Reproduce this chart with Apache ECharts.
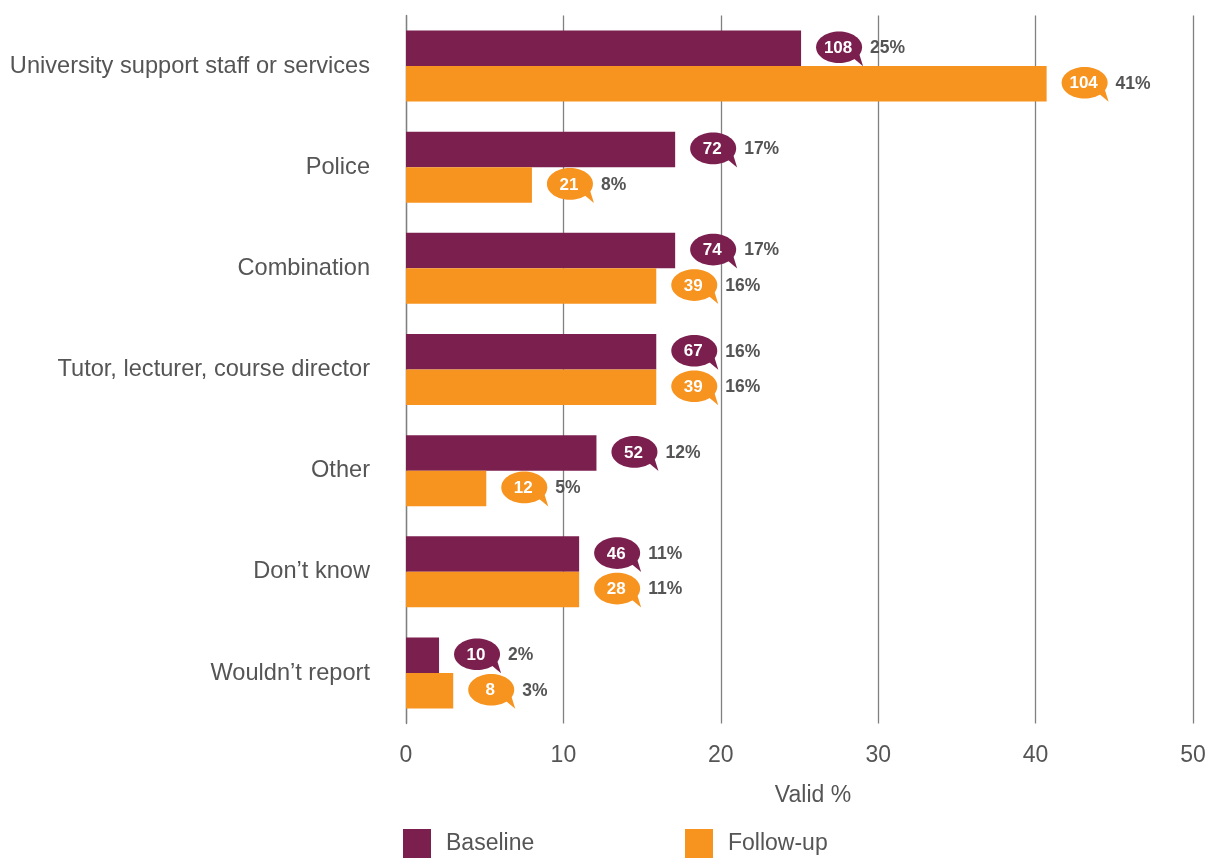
<!DOCTYPE html>
<html>
<head>
<meta charset="utf-8">
<script src="https://cdn.jsdelivr.net/npm/echarts@6/dist/echarts.min.js"></script>
<style>
html,body{margin:0;padding:0;background:#fff;}
#chart{width:1209px;height:859px;}
</style>
</head>
<body>
<div id="chart"></div>
<script>
const categories = ["University support staff or services", "Police", "Combination", "Tutor, lecturer, course director", "Other", "Don\u2019t know", "Wouldn\u2019t report"];
const baselineValues = [25.1, 17.1, 17.1, 15.9, 12.1, 11.0, 2.1];
const followUpValues = [40.7, 8.0, 15.9, 15.9, 5.1, 11.0, 3.0];
const baselinePctLabels = ["25%", "17%", "17%", "16%", "12%", "11%", "2%"];
const followUpPctLabels = ["41%", "8%", "16%", "16%", "5%", "11%", "3%"];
const baselineCounts = [108, 72, 74, 67, 52, 46, 10];
const followUpCounts = [104, 21, 39, 39, 12, 28, 8];
const xTicks = [0, 10, 20, 30, 40, 50];

const PURPLE = '#7b1f4f';
const ORANGE = '#f7931f';
const TEXT = '#555555';
const FONT = '"Liberation Sans", Arial, sans-serif';

const chart = echarts.init(document.getElementById('chart'), null, {renderer: 'canvas'});

function bubbleData(values, counts, pcts) {
  return values.map((v, i) => [v, i, counts[i], pcts[i]]);
}

function makeBubbleRenderer(color, sign, pctLabels) {
  return function (params, api) {
    const v = api.value(0);
    const idx = api.value(1);
    const pt = api.coord([v, idx]);
    const barW = 35.5;
    const cx = pt[0] + 38;
    const cy = pt[1] + sign * barW / 2 - 1;
    const count = api.value(2);
    const pct = pctLabels[params.dataIndex];
    return {
      type: 'group',
      children: [
        {
          type: 'polygon',
          shape: {points: [[cx + 12, cy + 9], [cx + 24, cy + 19], [cx + 19, cy + 3]]},
          style: {fill: color}
        },
        {
          type: 'ellipse',
          shape: {cx: cx, cy: cy, rx: 23, ry: 15.8},
          style: {fill: color}
        },
        {
          type: 'text',
          style: {
            x: cx - 1, y: cy + 1, text: String(count),
            fill: '#ffffff', font: 'bold 17px ' + FONT,
            align: 'center', verticalAlign: 'middle'
          }
        },
        {
          type: 'text',
          style: {
            x: cx + 31, y: cy + 1, text: pct,
            fill: TEXT, font: 'bold 17.5px ' + FONT,
            align: 'left', verticalAlign: 'middle'
          }
        }
      ]
    };
  };
}

const option = {
  animation: false,
  backgroundColor: '#ffffff',
  grid: {left: 406, right: 16, top: 15.4, bottom: 135.4, containLabel: false},
  xAxis: {
    type: 'value', min: 0, max: 50, interval: 10,
    axisLine: {show: false}, axisTick: {show: false},
    axisLabel: {color: TEXT, fontSize: 23, fontFamily: FONT, margin: 21,
      formatter: v => xTicks.includes(v) ? String(v) : ''},
    splitLine: {show: true, lineStyle: {color: '#808080', width: 1.3}}
  },
  yAxis: {
    type: 'category', data: categories, inverse: true,
    axisLine: {show: true, lineStyle: {color: '#808080', width: 1.3}},
    axisTick: {show: false},
    axisLabel: {color: TEXT, fontSize: 23.6, fontFamily: FONT, margin: 36}
  },
  legend: [
    {
      data: ['Baseline'], left: 403, top: 829, padding: 0, itemWidth: 28, itemHeight: 29,
      icon: 'rect', itemStyle: {borderWidth: 0},
      textStyle: {color: TEXT, fontSize: 23, fontFamily: FONT, padding: [10, 0, 0, 10]}
    },
    {
      data: ['Follow-up'], left: 685, top: 829, padding: 0, itemWidth: 28, itemHeight: 29,
      icon: 'rect', itemStyle: {borderWidth: 0},
      textStyle: {color: TEXT, fontSize: 23, fontFamily: FONT, padding: [10, 0, 0, 10]}
    }
  ],
  graphic: [
    {
      type: 'text', x: 813, y: 796,
      style: {text: 'Valid %', fill: TEXT, font: '23px ' + FONT, align: 'center', verticalAlign: 'middle'}
    }
  ],
  series: [
    {
      name: 'Baseline', type: 'bar', data: baselineValues,
      barWidth: 35.5, barGap: '0%',
      itemStyle: {color: PURPLE}
    },
    {
      name: 'Follow-up', type: 'bar', data: followUpValues,
      barWidth: 35.5, barGap: '0%',
      itemStyle: {color: ORANGE}
    },
    {
      name: 'BaselineBubbles', type: 'custom', data: bubbleData(baselineValues, baselineCounts, baselinePctLabels),
      renderItem: makeBubbleRenderer(PURPLE, -1, baselinePctLabels), z: 5, silent: true
    },
    {
      name: 'FollowUpBubbles', type: 'custom', data: bubbleData(followUpValues, followUpCounts, followUpPctLabels),
      renderItem: makeBubbleRenderer(ORANGE, 1, followUpPctLabels), z: 5, silent: true
    }
  ]
};
chart.setOption(option);
</script>
</body>
</html>
